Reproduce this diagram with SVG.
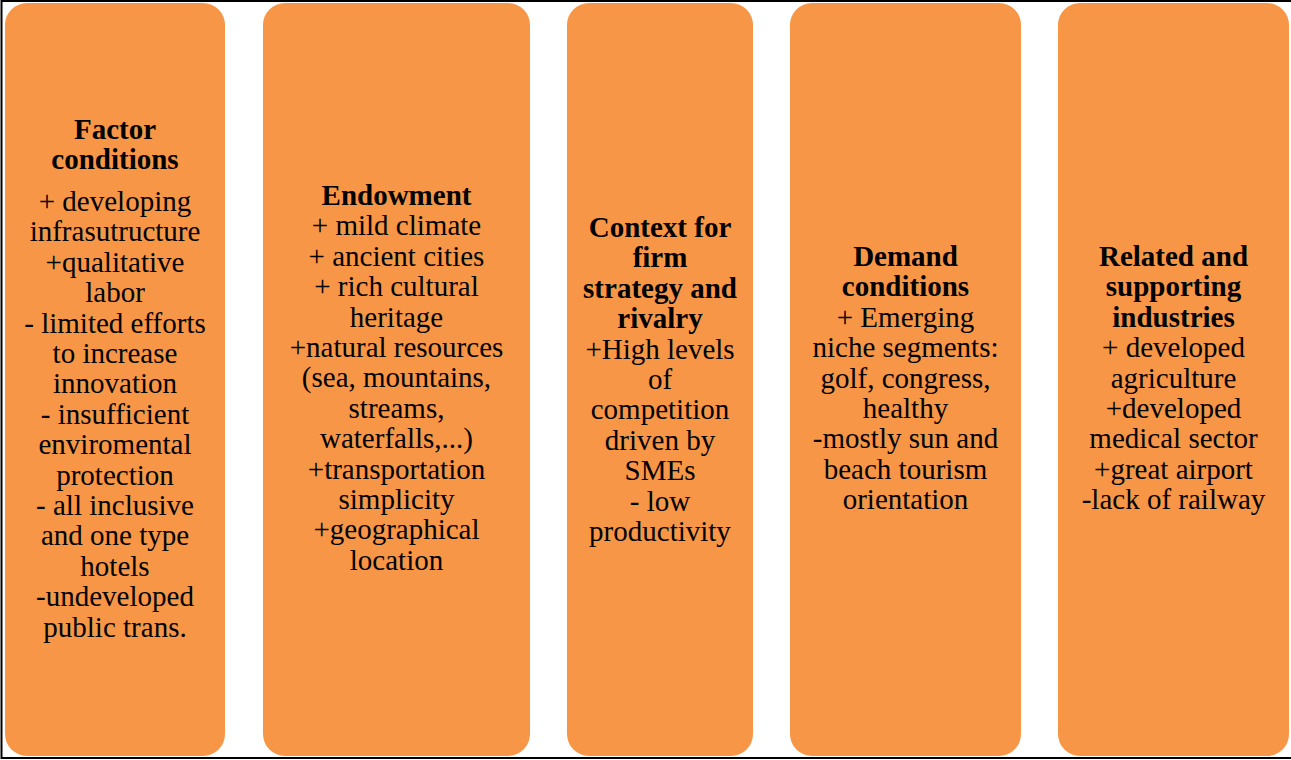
<svg xmlns="http://www.w3.org/2000/svg" width="1291" height="760" viewBox="0 0 1291 760">
<style>
.box{fill:#F79646;stroke:none}
text{font-family:"Liberation Serif","Times New Roman",serif;font-size:29px;fill:#000;text-anchor:middle}
.t{font-weight:bold}
</style>
<rect x="0" y="0" width="1291" height="760" fill="#fff"/>
<rect x="1.5" y="1" width="1296" height="757" fill="none" stroke="#000" stroke-width="2"/>
<g id="factor-conditions">
<rect class="box" x="5" y="3" width="220" height="753" rx="22"/>
<text x="115" y="139" class="t">Factor</text>
<text x="115" y="169" class="t">conditions</text>
<text x="115" y="211">+ developing</text>
<text x="115" y="241.4">infrasutructure</text>
<text x="115" y="271.8">+qualitative</text>
<text x="115" y="302.2">labor</text>
<text x="115" y="332.6">- limited efforts</text>
<text x="115" y="363">to increase</text>
<text x="115" y="393.4">innovation</text>
<text x="115" y="423.8">- insufficient</text>
<text x="115" y="454.2">enviromental</text>
<text x="115" y="484.6">protection</text>
<text x="115" y="515">- all inclusive</text>
<text x="115" y="545.4">and one type</text>
<text x="115" y="575.8">hotels</text>
<text x="115" y="606.2">-undeveloped</text>
<text x="115" y="636.6">public trans.</text>
</g>
<g id="endowment">
<rect class="box" x="263" y="3" width="267" height="753" rx="22"/>
<text x="396.5" y="205" class="t">Endowment</text>
<text x="396.5" y="235.4">+ mild climate</text>
<text x="396.5" y="265.8">+ ancient cities</text>
<text x="396.5" y="296.2">+ rich cultural</text>
<text x="396.5" y="326.6">heritage</text>
<text x="396.5" y="357">+natural resources</text>
<text x="396.5" y="387.4">(sea, mountains,</text>
<text x="396.5" y="417.8">streams,</text>
<text x="396.5" y="448.2">waterfalls,...)</text>
<text x="396.5" y="478.6">+transportation</text>
<text x="396.5" y="509">simplicity</text>
<text x="396.5" y="539.4">+geographical</text>
<text x="396.5" y="569.8">location</text>
</g>
<g id="context">
<rect class="box" x="567" y="3" width="186" height="753" rx="22"/>
<text x="660" y="237" class="t">Context for</text>
<text x="660" y="267.4" class="t">firm</text>
<text x="660" y="297.8" class="t">strategy and</text>
<text x="660" y="328.2" class="t">rivalry</text>
<text x="660" y="358.6">+High levels</text>
<text x="660" y="389">of</text>
<text x="660" y="419.4">competition</text>
<text x="660" y="449.8">driven by</text>
<text x="660" y="480.2">SMEs</text>
<text x="660" y="510.6">- low</text>
<text x="660" y="541">productivity</text>
</g>
<g id="demand-conditions">
<rect class="box" x="790" y="3" width="231" height="753" rx="22"/>
<text x="905.5" y="266" class="t">Demand</text>
<text x="905.5" y="296.4" class="t">conditions</text>
<text x="905.5" y="326.8">+ Emerging</text>
<text x="905.5" y="357.2">niche segments:</text>
<text x="905.5" y="387.6">golf, congress,</text>
<text x="905.5" y="418">healthy</text>
<text x="905.5" y="448.4">-mostly sun and</text>
<text x="905.5" y="478.8">beach tourism</text>
<text x="905.5" y="509.2">orientation</text>
</g>
<g id="related-industries">
<rect class="box" x="1058" y="3" width="231" height="753" rx="22"/>
<text x="1173.5" y="266" class="t">Related and</text>
<text x="1173.5" y="296.4" class="t">supporting</text>
<text x="1173.5" y="326.8" class="t">industries</text>
<text x="1173.5" y="357.2">+ developed</text>
<text x="1173.5" y="387.6">agriculture</text>
<text x="1173.5" y="418">+developed</text>
<text x="1173.5" y="448.4">medical sector</text>
<text x="1173.5" y="478.8">+great airport</text>
<text x="1173.5" y="509.2">-lack of railway</text>
</g>
<g id="connectors"/>
</svg>
